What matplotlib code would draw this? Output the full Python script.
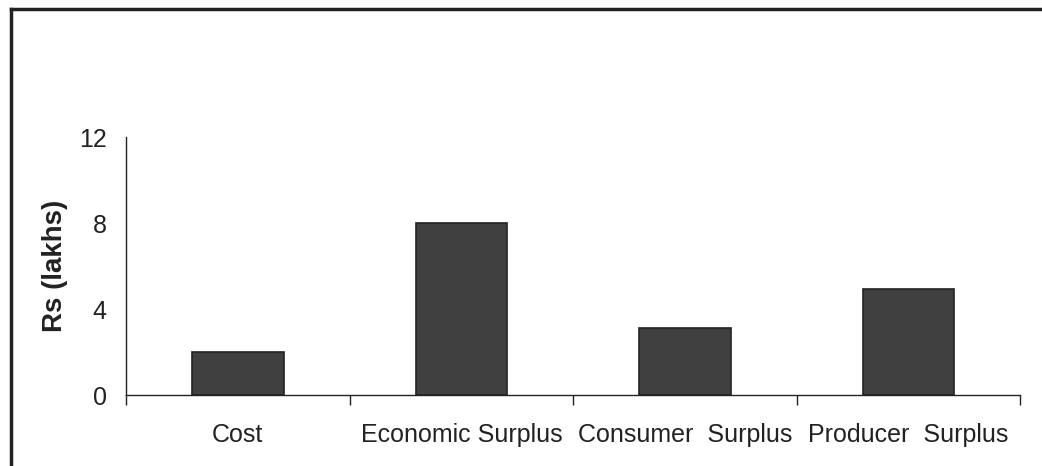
import numpy as np
import matplotlib.pyplot as plt
from matplotlib.lines import Line2D

categories = ['Cost', 'Economic Surplus', 'Consumer  Surplus', 'Producer  Surplus']
values = [2.0, 8.0, 3.1, 4.95]
yticks = [0, 4, 8, 12]

plt.rcParams['font.family'] = ['Liberation Sans', 'DejaVu Sans']

fig = plt.figure(figsize=(10.42, 4.66), dpi=100)
ax = fig.add_axes([0.121, 0.152, 0.858, 0.554])

x = np.arange(len(categories))
ax.bar(x, values, width=0.41, color='#404040', edgecolor='#222222', linewidth=1.2)

ax.set_xlim(-0.5, len(categories) - 0.5)
ax.set_ylim(0, 12)
ax.set_yticks(yticks)
ax.set_xticks(x)
ax.set_xticklabels(categories)
ax.set_xticks(np.arange(len(categories) + 1) - 0.5, minor=True)

ax.tick_params(axis='x', which='major', length=0, pad=20, labelsize=18, colors='#222222')
ax.tick_params(axis='x', which='minor', length=7, width=1, direction='out', color='#222222')
ax.tick_params(axis='y', length=0, pad=14, labelsize=18, colors='#222222')

for s in ['top', 'right']:
    ax.spines[s].set_visible(False)
for s in ['left', 'bottom']:
    ax.spines[s].set_color('#222222')
    ax.spines[s].set_linewidth(1)

ax.set_ylabel('Rs (lakhs)', fontsize=20, fontweight='bold', color='#222222', labelpad=8)

# frame lines on top and left of the figure
fig.add_artist(Line2D([0.0105, 1.0], [0.981, 0.981], transform=fig.transFigure, color='#222222', linewidth=2.5))
fig.add_artist(Line2D([0.0105, 0.0105], [0.0, 0.981], transform=fig.transFigure, color='#222222', linewidth=2.5))

fig.savefig('out.png', dpi=100)
